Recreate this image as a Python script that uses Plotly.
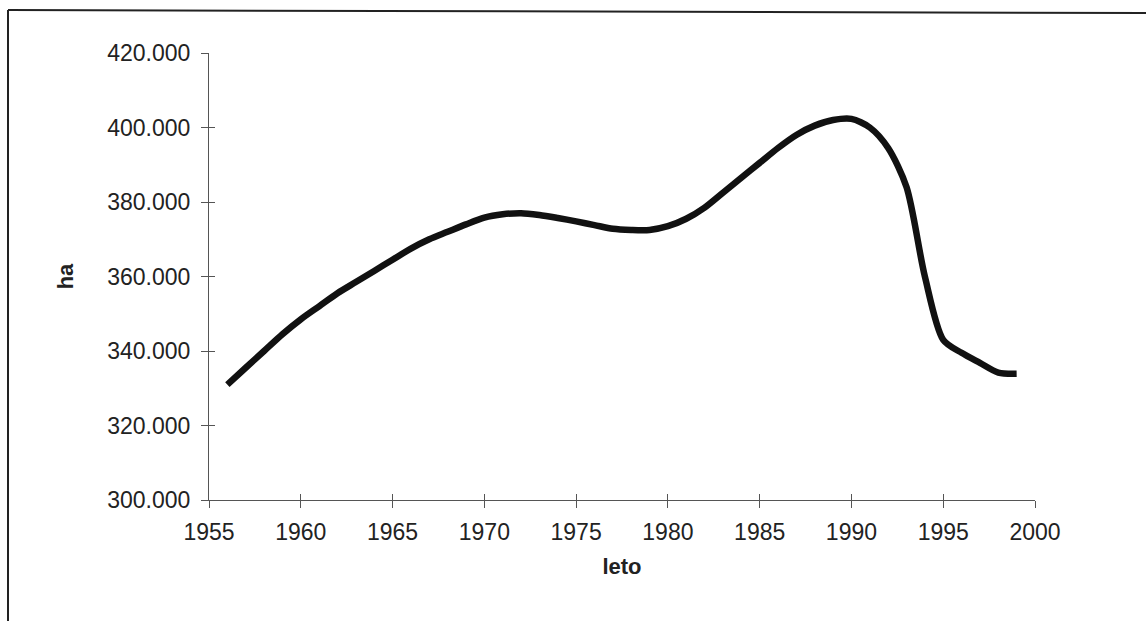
import plotly.graph_objects as go

years = list(range(1956, 2000))
hectares = [
    331000, 335500, 340000, 344500, 348500, 352000, 355500, 358500, 361500, 364500,
    367500, 370000, 372000, 374000, 375800, 376700, 377000, 376500, 375700, 374800,
    373800, 372800, 372500, 372500, 373500, 375500, 378500, 382500, 386500, 390500,
    394500, 398000, 400500, 402000, 402300, 400000, 394500, 384000, 360000, 343000,
    339500, 336800, 334200, 333900,
]
x_ticks = [1955, 1960, 1965, 1970, 1975, 1980, 1985, 1990, 1995, 2000]
y_ticks = [300000, 320000, 340000, 360000, 380000, 400000, 420000]

FONT = "Liberation Sans, Arial, sans-serif"
AX = "#555555"

fig = go.Figure()
fig.add_trace(go.Scatter(
    x=years, y=hectares, mode="lines",
    line=dict(color="#111111", width=6.5, shape="spline", smoothing=0.8),
    showlegend=False, hoverinfo="skip",
))
# overlay axes give the inner half of the crossing tick marks
fig.add_trace(go.Scatter(x=[None], y=[None], xaxis="x2", yaxis="y2", showlegend=False))

fig.update_layout(
    width=1147, height=621,
    margin=dict(l=209, r=112, t=53, b=121),
    paper_bgcolor="white", plot_bgcolor="white",
    separators=",.",
    font=dict(family=FONT, size=23, color="#222222"),
    xaxis=dict(
        range=[1955, 2000], tickvals=x_ticks, tickformat="d",
        showline=True, linecolor=AX, linewidth=1.2,
        ticks="outside", ticklen=7, tickcolor=AX, tickwidth=1.2,
        ticklabelstandoff=4,
        showgrid=False, zeroline=False,
        title=dict(text="<b>leto</b>", font=dict(size=22, color="#222222"), standoff=14),
    ),
    yaxis=dict(
        range=[300000, 420000], tickvals=y_ticks, tickformat=",d",
        showline=True, linecolor=AX, linewidth=1.2,
        ticks="outside", ticklen=7, tickcolor=AX, tickwidth=1.2,
        ticklabelstandoff=6,
        showgrid=False, zeroline=False,
        title=dict(text="<b>ha</b>", font=dict(size=22, color="#222222"), standoff=27),
    ),
    xaxis2=dict(
        overlaying="x", range=[1955, 2000], tickvals=x_ticks, showticklabels=False,
        ticks="inside", ticklen=6, tickcolor=AX, tickwidth=1.2,
        showgrid=False, zeroline=False, showline=False, side="bottom",
    ),
    yaxis2=dict(
        overlaying="y", range=[300000, 420000], tickvals=y_ticks, showticklabels=False,
        ticks="inside", ticklen=6, tickcolor=AX, tickwidth=1.2,
        showgrid=False, zeroline=False, showline=False, side="left",
    ),
    shapes=[
        dict(type="line", xref="paper", yref="paper",
             x0=(8 - 209) / 826, x1=(8 - 209) / 826,
             y0=(500 - 10) / 447, y1=(500 - 625) / 447,
             line=dict(color="#222222", width=2)),
        dict(type="line", xref="paper", yref="paper",
             x0=(8 - 209) / 826, x1=(1146 - 209) / 826,
             y0=(500 - 10) / 447, y1=(500 - 13) / 447,
             line=dict(color="#222222", width=2)),
    ],
)

fig.write_html("out.html")
